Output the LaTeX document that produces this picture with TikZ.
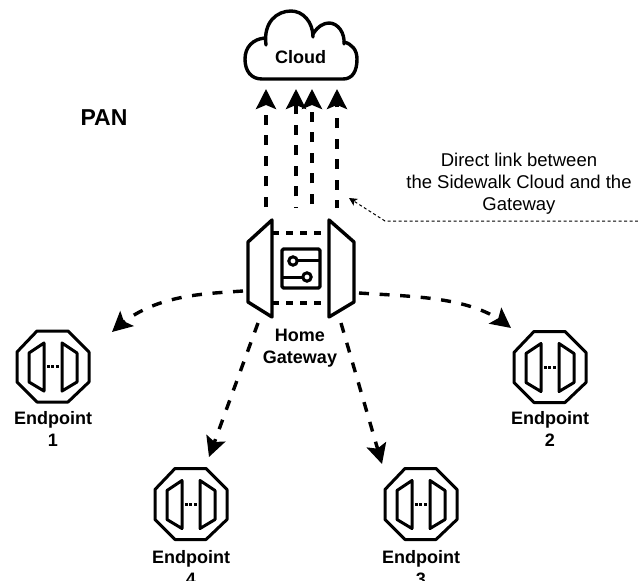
\documentclass[tikz,border=0pt]{standalone}
\usepackage{fontspec}
\setmainfont{Liberation Sans}
\usetikzlibrary{arrows.meta,bending}
\tikzset{
  x=1pt,y=-1pt,
  shape line/.style={line width=3.4pt,line join=round,line cap=round},
  icon line/.style={line width=3pt,line join=round,line cap=round},
  flow/.style={line width=3.4pt,dash pattern=on 10pt off 10.6pt,-{Stealth[length=20pt,width=20pt,inset=4pt,flex=0.6]}},
  note link/.style={line width=1pt,dash pattern=on 3pt off 2.5pt,-{Stealth[length=8pt,width=8pt,inset=2pt]}},
  bold label/.style={font=\fontsize{18}{22}\selectfont\bfseries,align=center,inner sep=0pt},
  note label/.style={font=\fontsize{18.5}{22}\selectfont,align=center,inner sep=0pt},
  pics/endpoint/.style={code={
    \draw[icon line] (-16,-35.5) -- (15,-35.5) -- (36,-14.5) -- (36,15.5) -- (15,35.5) -- (-16,35.5) -- (-36,15.5) -- (-36,-14.5) -- cycle;
    \draw[icon line] (-9,-23.5) -- (-24,-13.5) -- (-24,15.5) -- (-9,24.5) -- cycle;
    \draw[icon line] (9,-23.5) -- (24,-13.5) -- (24,15.5) -- (9,24.5) -- cycle;
    \draw[line width=3pt,dash pattern=on 2.8pt off 1.6pt] (-6,0) -- (7,0);
  }}
}
\begin{document}
\begin{tikzpicture}
\useasboundingbox (0,0) rectangle (638,581);
\clip (0,0) rectangle (638,581);
% Cloud
\draw[shape line] (266,45) .. controls (263,22) and (277,11) .. (291,11)
  .. controls (303,11) and (313,22) .. (313,37);
\draw[shape line] (313,34) .. controls (318,26) and (324,23) .. (329,23)
  .. controls (338,23) and (345,33) .. (344,44);
\draw[shape line] (344,42) .. controls (352,44) and (357,50) .. (357,59)
  .. controls (357,72) and (352,79) .. (343,79) -- (262,79)
  .. controls (251,79) and (245,71) .. (245,59)
  .. controls (245,47) and (253,39) .. (265,38);
\node[bold label] (cloud) at (300.5,57) {Cloud};
\node[bold label,font=\fontsize{23}{26}\selectfont\bfseries] (pan) at (104,118) {PAN};
% Gateway
\draw[shape line] (272,220) -- (248,242) -- (248,302) -- (272,317) -- cycle;
\draw[shape line] (329,220) -- (354,242) -- (354,302) -- (329,317) -- cycle;
\draw[line width=3.4pt,dash pattern=on 7pt off 7pt] (272,233) -- (329,233);
\draw[line width=3.4pt,dash pattern=on 7pt off 7pt] (272,303) -- (329,303);
\draw[shape line,rounded corners=1.5pt] (282,249) rectangle (320,288);
\draw[line width=3pt] (296,260) -- (319,260);
\draw[line width=3pt] (282,277) -- (303,277);
\draw[line width=3pt] (293,261) circle (4.2);
\draw[line width=3pt] (307,277) circle (4.2);
\coordinate (gwTopA) at (266,207);
\coordinate (gwTopB) at (296,208);
\coordinate (gwTopC) at (312,204);
\coordinate (gwTopD) at (337,208);
\coordinate (cloudA) at (266,89);
\coordinate (cloudB) at (296,89);
\coordinate (cloudC) at (312,89);
\coordinate (cloudD) at (337,89);
\coordinate (gwLeft) at (243,291);
\coordinate (gwRight) at (359,293);
\coordinate (gwLowLeft) at (258,323);
\coordinate (gwLowRight) at (341,323);
\coordinate (epOne) at (112,332);
\coordinate (epTwo) at (511,328);
\coordinate (epThree) at (382,464);
\coordinate (epFour) at (209,457);
\coordinate (noteEnd) at (638,221);
\coordinate (noteBend) at (385,221);
\coordinate (noteTip) at (349,198);
\draw[flow] (gwTopA) -- (cloudA);
\draw[flow,dash phase=9pt] (gwTopB) -- (cloudB);
\draw[flow] (gwTopC) -- (cloudC);
\draw[flow,dash phase=2.4pt] (gwTopD) -- (cloudD);
\draw[flow] (gwLeft) .. controls (200,294) and (150,295) .. (epOne);
\draw[flow] (gwRight) .. controls (420,297) and (475,297) .. (epTwo);
\draw[flow] (gwLowLeft) -- (epFour);
\draw[flow] (gwLowRight) -- (epThree);
\draw[note link] (noteEnd) -- (noteBend) -- (noteTip);
\node[bold label] (gwLabel) at (300,348.5) {Home\\Gateway};
\node[note label] (note) at (519,183.5) {Direct link between\\the Sidewalk Cloud and the\\Gateway};
% Endpoints
\pic (e1) at (53,366.5) {endpoint};
\pic (e2) at (550,367) {endpoint};
\pic (e3) at (421,504) {endpoint};
\pic (e4) at (191,504) {endpoint};
\node[bold label] (l1) at (53,429) {Endpoint\\1};
\node[bold label] (l2) at (550,429) {Endpoint\\2};
\node[bold label] (l3) at (421,568) {Endpoint\\3};
\node[bold label] (l4) at (191,568) {Endpoint\\4};
\end{tikzpicture}
\end{document}
